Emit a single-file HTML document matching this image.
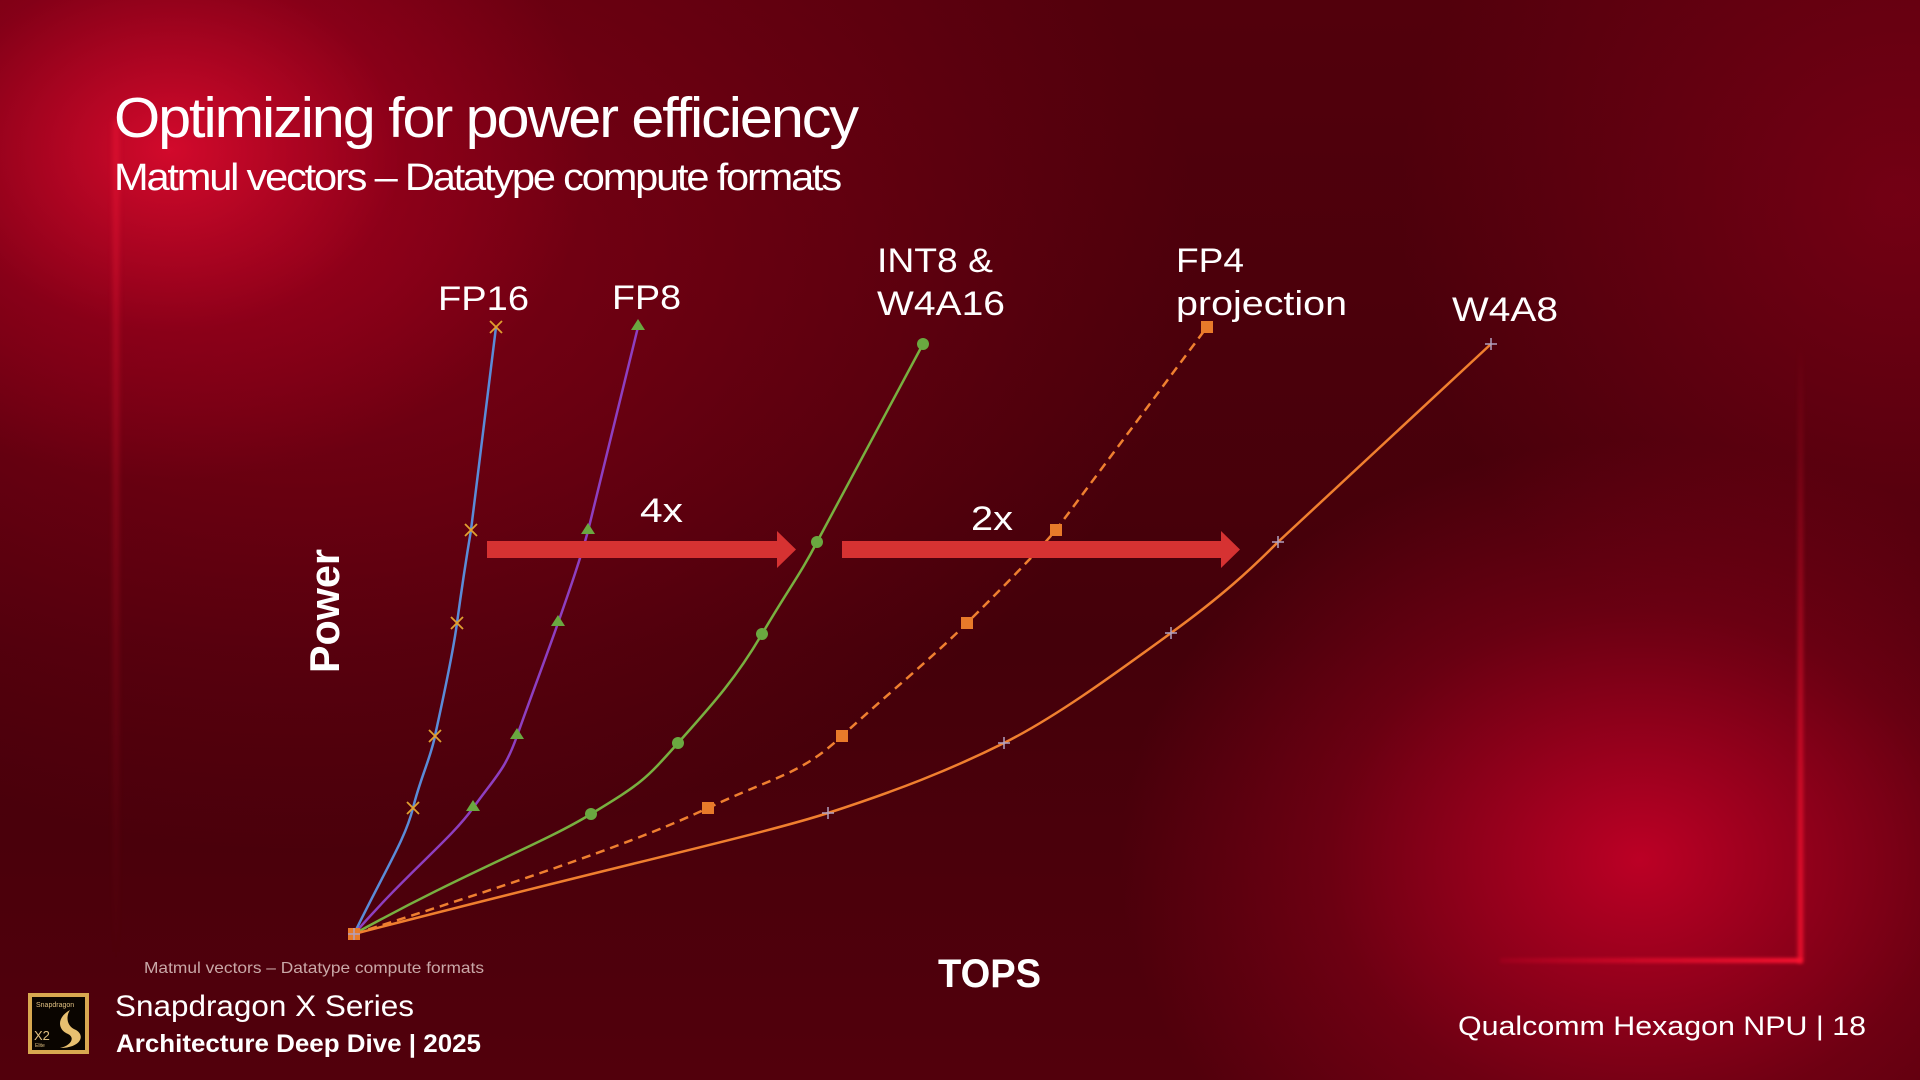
<!DOCTYPE html>
<html><head><meta charset="utf-8"><style>
html,body{margin:0;padding:0}
body{width:1920px;height:1080px;overflow:hidden;position:relative;background:#44000a;font-family:"Liberation Sans",sans-serif}
.bg{position:absolute;inset:0;background:
radial-gradient(ellipse 420px 330px at 170px 150px, rgba(215,10,45,0.95), rgba(160,0,30,0.5) 55%, rgba(0,0,0,0) 100%),
radial-gradient(ellipse 900px 600px at 300px 250px, rgba(150,0,25,0.7), rgba(0,0,0,0) 100%),
radial-gradient(ellipse 520px 420px at 1640px 860px, rgba(200,0,40,0.9), rgba(140,0,25,0.5) 60%, rgba(0,0,0,0) 100%),
radial-gradient(ellipse 500px 500px at 1900px 200px, rgba(140,0,25,0.6), rgba(0,0,0,0) 100%),
linear-gradient(180deg,#52000c 0%,#44000a 60%,#52000c 100%);}
.glowR{position:absolute;left:1798px;top:340px;width:5px;height:623px;background:linear-gradient(180deg,rgba(220,0,40,0),rgba(255,20,50,0.9));filter:blur(2px)}
.glowB{position:absolute;left:1500px;top:958px;width:302px;height:5px;background:linear-gradient(90deg,rgba(220,0,40,0.2),rgba(255,20,50,0.95));filter:blur(1.5px)}
.glowL{position:absolute;left:114px;top:120px;width:4px;height:840px;background:linear-gradient(180deg,rgba(255,30,60,0.6),rgba(200,0,30,0));filter:blur(3px)}
svg{position:absolute;left:0;top:0}
</style></head><body>
<div class="bg"></div><div class="glowL"></div><div class="glowR"></div><div class="glowB"></div>
<svg width="1920" height="1080" viewBox="0 0 1920 1080" font-family="Liberation Sans, sans-serif" fill="#fff">
<text x="114" y="137" font-size="57" textLength="743" lengthAdjust="spacingAndGlyphs" letter-spacing="-2">Optimizing for power efficiency</text>
<text x="114" y="190" font-size="38" textLength="726" lengthAdjust="spacingAndGlyphs" letter-spacing="-2">Matmul vectors – Datatype compute formats</text>

<g fill="none" stroke-width="2.5">
<path d="M354,934 C385,870 405,840 413,808 S430,760 435,736 S452,660 457,623 S466,560 471,530 L496,327" stroke="#5b8bd8"/>
<path d="M354,934 C410,870 450,840 473,808 S505,770 517,736 S545,660 558,623 S580,560 588,531 L638,327" stroke="#8e3fc0"/>
<path d="M354,934 C470,870 540,845 591,814 S645,780 678,743 S735,680 762,634 S800,575 817,542 L923,344" stroke="#78b040"/>
<path d="M354,934 C540,875 640,840 708,808 S800,775 842,736 S930,660 967,623 S1030,560 1056,530 L1207,327" stroke="#ef7f30" stroke-dasharray="9,6"/>
<path d="M354,934 C600,870 760,835 828,813 S950,770 1004,743 S1120,670 1171,633 S1250,570 1278,542 L1491,344" stroke="#f07f2f"/>
</g>
<g stroke="#e0a030" stroke-width="1.8">
<path d="M407,802l12,12M419,802l-12,12M429,730l12,12M441,730l-12,12M451,617l12,12M463,617l-12,12M465,524l12,12M477,524l-12,12M490,321l12,12M502,321l-12,12"/>
</g>
<g fill="#6aa840">
<path d="M473,800l7,11h-14z M517,728l7,11h-14z M558,615l7,11h-14z M588,523l7,11h-14z M638,319l7,11h-14z"/>
<circle cx="591" cy="814" r="6"/><circle cx="678" cy="743" r="6"/><circle cx="762" cy="634" r="6"/><circle cx="817" cy="542" r="6"/><circle cx="923" cy="344" r="6"/>
</g>
<g fill="#e87a2a">
<rect x="702" y="802" width="12" height="12"/><rect x="836" y="730" width="12" height="12"/><rect x="961" y="617" width="12" height="12"/><rect x="1050" y="524" width="12" height="12"/><rect x="1201" y="321" width="12" height="12"/>
<rect x="348" y="928" width="12" height="12"/>
</g>
<g stroke="#b0a0c0" stroke-width="1.5">
<path d="M822,813h12M828,807v12M998,743h12M1004,737v12M1165,633h12M1171,627v12M1272,542h12M1278,536v12M1485,344h12M1491,338v12M348,934h12M354,928v12"/>
</g>
<g fill="#d63232">
<path d="M487,541H777V531L796,549.5L777,568V558H487Z"/>
<path d="M842,541H1221V531L1240,549.5L1221,568V558H842Z"/>
</g>
<g font-size="34">
<text x="438" y="310" textLength="91" lengthAdjust="spacingAndGlyphs">FP16</text>
<text x="612" y="309" textLength="69" lengthAdjust="spacingAndGlyphs">FP8</text>
<text x="877" y="272" textLength="116" lengthAdjust="spacingAndGlyphs">INT8 &amp;</text>
<text x="877" y="315" textLength="128" lengthAdjust="spacingAndGlyphs">W4A16</text>
<text x="1176" y="272" textLength="68" lengthAdjust="spacingAndGlyphs">FP4</text>
<text x="1176" y="315" textLength="171" lengthAdjust="spacingAndGlyphs">projection</text>
<text x="1452" y="321" textLength="106" lengthAdjust="spacingAndGlyphs">W4A8</text>
<text x="640" y="522" textLength="43" lengthAdjust="spacingAndGlyphs">4x</text>
<text x="971" y="530" textLength="42" lengthAdjust="spacingAndGlyphs">2x</text>
</g>
<text transform="translate(339,673) rotate(-90)" font-size="42" font-weight="bold" textLength="124" lengthAdjust="spacingAndGlyphs">Power</text>
<text x="938" y="987" font-size="40" font-weight="bold" textLength="103" lengthAdjust="spacingAndGlyphs">TOPS</text>

<text x="144" y="973" font-size="16" fill="#c9a8a8" textLength="340" lengthAdjust="spacingAndGlyphs">Matmul vectors – Datatype compute formats</text>
<text x="115" y="1016" font-size="30" textLength="299" lengthAdjust="spacingAndGlyphs">Snapdragon X Series</text>
<text x="116" y="1052" font-size="25" font-weight="bold" textLength="365" lengthAdjust="spacingAndGlyphs">Architecture Deep Dive | 2025</text>
<text x="1458" y="1035" font-size="27" textLength="408" lengthAdjust="spacingAndGlyphs">Qualcomm Hexagon NPU  |  18</text>

<rect x="28" y="993" width="61" height="61" fill="#d8a850"/>
<rect x="32" y="997" width="53" height="53" fill="#0a0500"/>
<text x="36" y="1007" font-size="7" fill="#e0c080">Snapdragon</text>
<text x="34" y="1040" font-size="13" fill="#e0c080">X2</text>
<text x="35" y="1047" font-size="5" fill="#e0c080">Elite</text>
<path d="M70,1010 C56,1018 58,1030 68,1034 C76,1038 70,1046 60,1048 C80,1048 86,1036 76,1030 C66,1026 66,1016 70,1010Z" fill="#e8c070"/>
</svg>
</body></html>
